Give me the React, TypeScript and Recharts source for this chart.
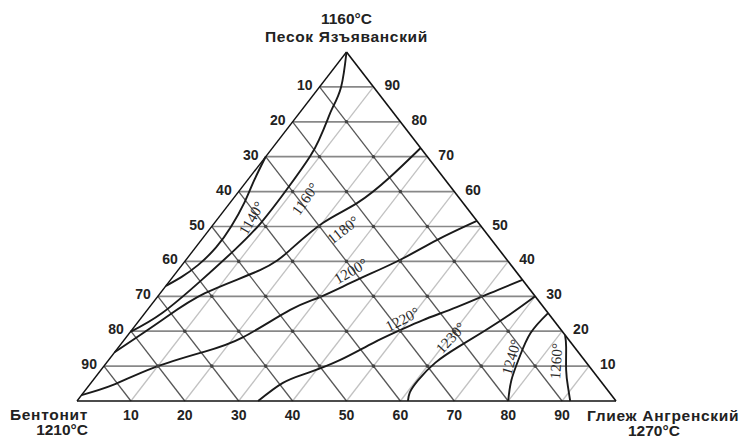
import React from "react";
import { ComposedChart, XAxis, YAxis, Line, Scatter, ReferenceLine } from "recharts";

const W = 745;
const H = 436;

// compositions are given as [глиеж %, песок %]; бентонит is the rest
const gridSteps = [10, 20, 30, 40, 50, 60, 70, 80, 90];
const bottomTicks = [10, 20, 30, 40, 50, 60, 70, 80, 90];
const rowLevels = [90, 80, 70, 60, 50, 40, 30, 20, 10];
const leftLabels = ["10", "20", "30", "40", "50", "60", "70", "80", "90"];
const rightLabels = ["90", "80", "70", "60", "50", "40", "30", "20", "10"];

const cornerNames = ["Песок Язъяванский", "Бентонит", "Глиеж Ангренский"];
const cornerTemps = ["1160°C", "1210°C", "1270°C"];

const iso1140: [number, number][] = [[0, 70], [1.3, 63], [2.6, 57], [3.6, 50], [3.8, 44], [3, 39], [1.6, 35.5], [0, 33]];
const iso1160: [number, number][] = [[0, 100], [4, 90], [5.4, 84], [6.2, 80.5], [7.5, 74.8], [8.2, 70], [8.6, 61.3], [8.6, 51], [7.6, 43.3], [5.8, 34.7], [3.2, 25.2], [0, 19.8]];
const iso1180: [number, number][] = [[27.5, 72.5], [26, 64.2], [23.6, 56.7], [20.1, 51], [17.9, 43.3], [15.2, 37.5], [8.3, 30.9], [4.2, 23.2], [0, 14]];
const iso1200: [number, number][] = [[48.4, 51.6], [43.7, 46.1], [39.7, 40.4], [34.6, 34.7], [30.2, 29.8], [26.5, 26.1], [21.7, 18.3], [16.4, 14], [9.4, 9.5], [4.4, 4.6], [0, 1.7]];
const iso1220: [number, number][] = [[65.3, 34.7], [61.2, 30.9], [57, 26.9], [52.6, 23.2], [49.8, 20.3], [46.6, 16.6], [42.9, 11.7], [38.7, 8], [35.6, 5.2], [33.6, 0]];
const iso1230: [number, number][] = [[70, 30], [68, 25], [65.5, 20], [63, 15.5], [61, 11], [60.3, 6], [60.5, 2.5], [61.4, 0]];
const iso1240: [number, number][] = [[74.8, 25.2], [74.4, 19.5], [75.8, 12.6], [77.6, 6], [80, 0]];
const iso1260: [number, number][] = [[81.1, 18.9], [83, 15.5], [86.3, 8.9], [89.1, 4], [91.5, 0]];

const isoNames = ["1140°", "1160°", "1180°", "1200°", "1220°", "1230°", "1240°", "1260°"];
const isoLabelAt: [number, number][] = [[6.2, 52.4], [13.4, 57.9], [24.9, 49], [32.2, 37.2], [48.7, 23.4], [60.3, 18.1], [74.3, 12.6], [83.2, 11.4]];
const isoAngles = [-60, -55, -38, -30, -27, -47, -74, -86];

const toXY = (g: number, s: number) => ({ x: g + s / 2, y: s });

const isotherms = [iso1140, iso1160, iso1180, iso1200, iso1220, iso1230, iso1240, iso1260];

const SANS = "'Liberation Sans', Arial, sans-serif";
const SERIF = "'Liberation Serif', 'Times New Roman', serif";

const dots = gridSteps.flatMap((g) =>
  gridSteps.filter((s) => g + s < 100).map((s) => toXY(g, s))
);

const leftData = rowLevels.map((s, i) => ({ ...toXY(0, s), text: leftLabels[i] }));
const rightData = rowLevels.map((s, i) => ({ ...toXY(100 - s, s), text: rightLabels[i] }));
const isoLabelData = isoLabelAt.map(([g, s], i) => ({ ...toXY(g, s), text: isoNames[i], angle: isoAngles[i] }));

const tickStyle = { fontFamily: SANS, fontWeight: 700, fontSize: 14, fill: "#222" };
const tempStyle = { fontFamily: SANS, fontWeight: 700, fontSize: 15.5, fill: "#222" };
const nameStyle = { fontFamily: SANS, fontWeight: 700, fontSize: 15.5, fill: "#222", letterSpacing: 0.7 };

export default function App() {
  return (
    <div style={{ position: "absolute", left: 0, top: 0, width: W, height: H, background: "#fff", overflow: "hidden" }}>
      <ComposedChart width={W} height={H} margin={{ top: 52, right: 129, bottom: 5, left: 77 }}>
        <XAxis
          type="number"
          dataKey="x"
          domain={[0, 100]}
          ticks={bottomTicks}
          axisLine={false}
          tickLine={false}
          tick={tickStyle}
          height={30}
          tickMargin={3}
        />
        <YAxis type="number" dataKey="y" domain={[0, 100]} hide />

        {gridSteps.map((s) => (
          <ReferenceLine key={`h${s}`} segment={[toXY(0, s), toXY(100 - s, s)]} stroke="#888" strokeWidth={1.7} ifOverflow="visible" />
        ))}
        {gridSteps.map((k) => (
          <ReferenceLine key={`g${k}`} segment={[toXY(k, 0), toXY(k, 100 - k)]} stroke="#c2c2c2" strokeWidth={1.3} ifOverflow="visible" />
        ))}
        {gridSteps.map((k) => (
          <ReferenceLine key={`b${k}`} segment={[toXY(k, 0), toXY(0, k)]} stroke="#575757" strokeWidth={1.3} ifOverflow="visible" />
        ))}

        <Scatter
          data={dots}
          dataKey="y"
          isAnimationActive={false}
          shape={(p: any) => <circle cx={p.cx} cy={p.cy} r={1.8} fill="#444" />}
        />

        <ReferenceLine segment={[toXY(0, 0), toXY(100, 0)]} stroke="#111" strokeWidth={1.6} ifOverflow="visible" />
        <ReferenceLine segment={[toXY(100, 0), toXY(0, 100)]} stroke="#111" strokeWidth={1.6} ifOverflow="visible" />
        <ReferenceLine segment={[toXY(0, 100), toXY(0, 0)]} stroke="#111" strokeWidth={1.4} ifOverflow="visible" />

        {isotherms.map((pts, i) => (
          <Line
            key={isoNames[i]}
            data={pts.map(([g, s]) => toXY(g, s))}
            dataKey="y"
            type="natural"
            stroke="#1a1a1a"
            strokeWidth={1.9}
            dot={false}
            activeDot={false}
            isAnimationActive={false}
          />
        ))}

        <Scatter
          data={isoLabelData}
          dataKey="y"
          isAnimationActive={false}
          shape={(p: any) => (
            <text
              x={p.cx}
              y={p.cy}
              transform={`rotate(${p.payload.angle} ${p.cx} ${p.cy})`}
              textAnchor="middle"
              dominantBaseline="central"
              fontFamily={SERIF}
              fontSize={15}
              fill="#2a2a2a"
            >
              {p.payload.text}
            </text>
          )}
        />

        <Scatter
          data={leftData}
          dataKey="y"
          isAnimationActive={false}
          shape={(p: any) => (
            <text x={p.cx - 7} y={p.cy + 3} textAnchor="end" {...tickStyle}>
              {p.payload.text}
            </text>
          )}
        />
        <Scatter
          data={rightData}
          dataKey="y"
          isAnimationActive={false}
          shape={(p: any) => (
            <text x={p.cx + 11} y={p.cy + 3} textAnchor="start" {...tickStyle}>
              {p.payload.text}
            </text>
          )}
        />

        <Scatter
          data={[toXY(0, 100)]}
          dataKey="y"
          isAnimationActive={false}
          shape={(p: any) => (
            <g textAnchor="middle">
              <text x={p.cx} y={p.cy - 28} {...tempStyle}>{cornerTemps[0]}</text>
              <text x={p.cx} y={p.cy - 10} {...nameStyle}>{cornerNames[0]}</text>
            </g>
          )}
        />
        <Scatter
          data={[toXY(0, 0)]}
          dataKey="y"
          isAnimationActive={false}
          shape={(p: any) => (
            <g>
              <text x={p.cx + 11} y={p.cy + 19} textAnchor="end" {...nameStyle}>{cornerNames[1]}</text>
              <text x={p.cx + 11} y={p.cy + 34} textAnchor="end" {...tempStyle}>{cornerTemps[1]}</text>
            </g>
          )}
        />
        <Scatter
          data={[toXY(100, 0)]}
          dataKey="y"
          isAnimationActive={false}
          shape={(p: any) => (
            <g>
              <text x={p.cx - 29} y={p.cy + 20} textAnchor="start" {...nameStyle}>{cornerNames[2]}</text>
              <text x={p.cx + 12} y={p.cy + 35} textAnchor="start" {...tempStyle}>{cornerTemps[2]}</text>
            </g>
          )}
        />
      </ComposedChart>
    </div>
  );
}
